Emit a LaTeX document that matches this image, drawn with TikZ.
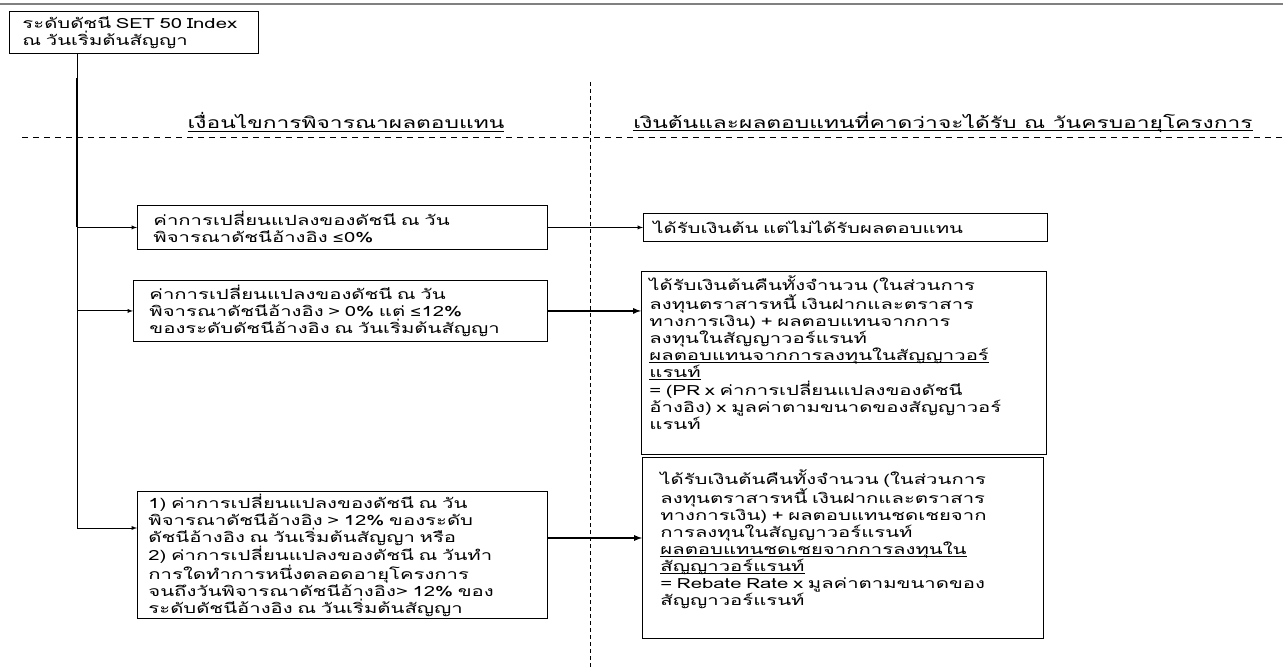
\documentclass[tikz,border=0pt]{standalone}
\usepackage{fontspec}
\setmainfont[Script=Thai,FakeStretch=1.45]{Loma}
\newfontfamily\symfont{DejaVu Sans}
\newcommand\uln[1]{\leavevmode\setbox0\hbox{#1}\rlap{\rule[-3pt]{\wd0}{0.9pt}}\box0}
\begin{document}
\begin{tikzpicture}[x=1pt,y=-1pt,> = latex,
	every node/.style={font=\fontsize{14}{17}\selectfont},
	box/.style={draw,line width=0.9pt,anchor=north west,align=left,inner ysep=0pt},
	head/.style={font=\fontsize{15.7}{17}\selectfont},
	line/.style={line width=0.9pt},
	heavy/.style={line width=1.7pt}]
	\useasboundingbox (0,0) rectangle (1283,668);
	\draw[gray,line width=1.5pt] (0,4)--(1283,4);
	\draw[line,dash pattern=on 6pt off 5pt] (22,137)--(1283,137);
	\draw[line,dash pattern=on 4pt off 3pt] (590,82)--(590,668);
	\node[box,inner xsep=13pt,text width=223pt,minimum height=42pt] (start) at (9,11)
		{\mbox{ระดับดัชนี SET 50 Index}\\ณ วันเริ่มต้นสัญญา};
	\node[head] (condhead) at (346,122) {\uln{เงื่อนไขการพิจารณาผลตอบแทน}};
	\node[head] (payhead) at (943,122) {\uln{เงินต้นและผลตอบแทนที่คาดว่าจะได้รับ ณ วันครบอายุโครงการ}};
	\node[box,inner xsep=16pt,text width=378pt,minimum height=44pt] (a1) at (137,205)
		{ค่าการเปลี่ยนแปลงของดัชนี ณ วัน\\พิจารณาดัชนีอ้างอิง {\symfont ≤}0\%};
	\node[box,inner xsep=16pt,text width=382pt,minimum height=61pt] (a2) at (133,280)
		{ค่าการเปลี่ยนแปลงของดัชนี ณ วัน\\พิจารณาดัชนีอ้างอิง > 0\% แต่ {\symfont ≤}12\%\\ของระดับดัชนีอ้างอิง ณ วันเริ่มต้นสัญญา};
	\node[box,inner xsep=11pt,text width=388pt,minimum height=127pt] (a3) at (137,491)
		{1) ค่าการเปลี่ยนแปลงของดัชนี ณ วัน\\พิจารณาดัชนีอ้างอิง > 12\% ของระดับ\\ดัชนีอ้างอิง ณ วันเริ่มต้นสัญญา หรือ\\2) ค่าการเปลี่ยนแปลงของดัชนี ณ วันทำ\\การใดทำการหนึ่งตลอดอายุโครงการ\\จนถึงวันพิจารณาดัชนีอ้างอิง> 12\% ของ\\ระดับดัชนีอ้างอิง ณ วันเริ่มต้นสัญญา};
	\node[box,inner xsep=10pt,text width=384pt,minimum height=28pt] (b1) at (643,213)
		{ได้รับเงินต้น แต่ไม่ได้รับผลตอบแทน};
	\node[box,inner xsep=8pt,inner ysep=4pt,text width=389pt,text depth=160pt] (b2) at (641,271)
		{ได้รับเงินต้นคืนทั้งจำนวน (ในส่วนการ\\ลงทุนตราสารหนี้ เงินฝากและตราสาร\\ทางการเงิน) + ผลตอบแทนจากการ\\ลงทุนในสัญญาวอร์แรนท์\\\uln{ผลตอบแทนจากการลงทุนในสัญญาวอร์}\\\uln{แรนท์}\\= (PR x ค่าการเปลี่ยนแปลงของดัชนี\\อ้างอิง) x มูลค่าตามขนาดของสัญญาวอร์\\แรนท์};
	\node[box,inner xsep=18pt,inner ysep=12pt,text width=365pt,text depth=142pt] (b3) at (642,457)
		{ได้รับเงินต้นคืนทั้งจำนวน (ในส่วนการ\\ลงทุนตราสารหนี้ เงินฝากและตราสาร\\ทางการเงิน) + ผลตอบแทนชดเชยจาก\\การลงทุนในสัญญาวอร์แรนท์\\\uln{ผลตอบแทนชดเชยจากการลงทุนใน}\\\uln{สัญญาวอร์แรนท์}\\= Rebate Rate x มูลค่าตามขนาดของ\\สัญญาวอร์แรนท์};
	\path (start.south west) ++(68,0) coordinate (trunk);
	\path (a3.north west) ++(0,37) coordinate (a3in);
	\path (a3.north east) ++(0,47) coordinate (a3out);
	\draw[line] (trunk)--(trunk |- 0,78);
	\draw[line width=2.3pt] (trunk |- 0,78)--(trunk |- a1.west);
	\draw[line,->] (trunk |- a1.west)--(a1.west);
	\draw[line,->] (trunk |- a1.west)--(trunk |- a3in)--(a3in);
	\draw[line,->] (trunk |- a2.west)--(a2.west);
	\draw[line,->] (a1.east)--(b1.west);
	\draw[heavy,->] (a2.east)--(a2.east -| b2.west);
	\draw[heavy,->] (a3out)--(a3out -| b3.west);
\end{tikzpicture}
\end{document}
